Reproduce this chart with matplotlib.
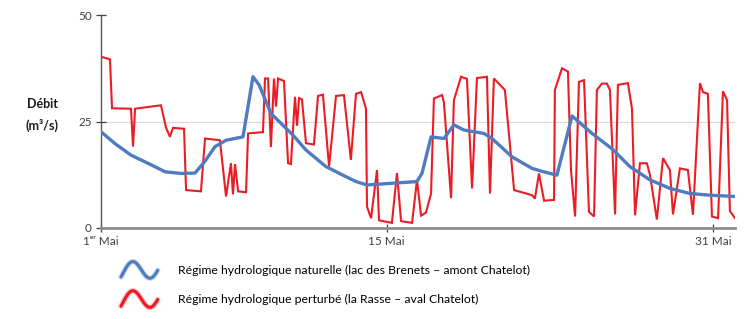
import numpy as np
import matplotlib
matplotlib.use('Agg')
import matplotlib.pyplot as plt
from matplotlib.lines import Line2D
from matplotlib.legend_handler import HandlerBase
import matplotlib.patheffects as pe

plt.rcParams['font.family'] = ['Lato', 'DejaVu Sans']

# ---- data (days since 1 May 00:00, discharge m3/s) ----
red_days = [0.00, 0.44, 0.54, 1.47, 1.57, 1.67, 2.94, 3.19, 3.38, 3.53, 4.07, 4.17,
            4.90, 5.10, 5.83, 6.13, 6.37, 6.47, 6.57, 6.72, 7.11, 7.21, 7.94, 8.04,
            8.19, 8.33, 8.48, 8.58, 8.68, 8.97, 9.17, 9.31, 9.51, 9.61, 9.71, 9.85,
            10.05, 10.44, 10.64, 10.88, 11.18, 11.52, 11.91, 12.25, 12.50, 12.75, 12.99,
            13.04, 13.24, 13.53, 13.63, 14.26, 14.51, 14.71, 15.25, 15.49, 15.69, 15.93,
            16.18, 16.32, 16.72, 16.81, 17.16, 17.30, 17.65, 17.94, 18.19, 18.43, 18.92,
            19.07, 19.26, 19.80, 20.25, 21.13, 21.27, 21.47, 21.72, 22.21, 22.25, 22.60,
            22.89, 23.04, 23.24, 23.43, 23.68, 23.92, 24.17, 24.31, 24.56, 24.80, 24.95,
            25.20, 25.34, 25.83, 26.03, 26.18, 26.42, 26.76, 26.91, 27.25, 27.55, 27.89,
            28.04, 28.38, 28.77, 29.02, 29.36, 29.51, 29.75, 29.95, 30.25, 30.49, 30.69,
            30.83, 31.08]
red_flow = [40.2, 39.6, 28.1, 28.0, 19.1, 28.0, 28.8, 23.5, 21.4, 23.5, 23.3, 8.9,
            8.6, 21.0, 20.6, 7.4, 15.2, 7.9, 15.0, 8.6, 8.4, 22.2, 22.5, 35.1,
            35.1, 19.0, 35.1, 28.5, 35.1, 34.5, 15.2, 15.0, 30.8, 24.0, 30.5, 30.2,
            19.9, 19.6, 31.0, 31.3, 14.4, 31.0, 31.2, 16.0, 31.5, 31.9, 28.0,
            5.0, 2.3, 13.6, 1.8, 1.2, 12.9, 1.6, 1.2, 11.3, 2.9, 3.6,
            8.1, 30.4, 31.2, 29.5, 7.0, 30.0, 35.5, 35.0, 9.3, 35.2, 35.5,
            8.1, 35.1, 32.4, 8.9, 7.7, 6.9, 12.8, 6.4, 6.6, 32.4, 37.5,
            36.7, 13.6, 2.7, 34.3, 34.7, 3.8, 2.7, 32.4, 33.9, 33.9, 32.4,
            3.2, 33.6, 34.0, 28.0, 3.0, 15.2, 15.2, 12.5, 2.0, 16.4, 13.6,
            3.2, 14.0, 13.6, 3.1, 34.0, 31.9, 31.5, 2.7, 2.3, 32.1, 30.0,
            4.0, 2.3]

blue_days = [0.00, 0.69, 1.47, 2.30, 3.14, 3.92, 4.61, 5.10, 5.59, 6.13, 6.96, 7.45,
             7.75, 8.33, 9.41, 10.05, 11.03, 11.86, 12.50, 13.04, 15.49, 15.74, 16.18,
             16.81, 17.30, 17.79, 18.77, 19.17, 20.15, 21.13, 21.62, 22.35, 23.09, 24.07,
             25.05, 25.93, 26.91, 27.89, 28.87, 29.85, 31.08]
blue_flow = [22.6, 19.8, 17.1, 15.2, 13.2, 12.8, 12.9, 15.7, 19.1, 20.6, 21.4, 35.5,
             33.6, 26.9, 21.8, 18.3, 14.4, 12.4, 10.9, 10.1, 10.9, 12.9, 21.4,
             21.0, 24.2, 23.0, 22.2, 21.0, 16.7, 14.0, 13.3, 12.4, 26.3, 22.2,
             18.6, 14.4, 11.3, 9.3, 8.1, 7.7, 7.4]

x_tick_days = [0, 14, 30]
x_tick_labels = ['1ᵉʳ Mai', '15 Mai', '31 Mai']
y_ticks = [0, 25, 50]
series_labels = ['Régime hydrologique naturelle (lac des Brenets – amont Chatelot)',
                 'Régime hydrologique perturbé (la Rasse – aval Chatelot)']

BLUE = '#4F7CC0'
RED = '#EC1C24'

W, H = 744, 319
fig = plt.figure(figsize=(W / 100, H / 100), dpi=100)
ax = fig.add_axes([101 / W, 91 / H, 634 / W, 213 / H])

ax.plot(red_days, red_flow, color=RED, lw=1.5, zorder=2, solid_joinstyle='miter')
ax.plot(blue_days, blue_flow, color=BLUE, lw=2.4, zorder=3)

ax.set_xlim(0, 31.08)
ax.set_ylim(0, 50)
ax.axhline(25, color='#d9d9d9', lw=0.8, zorder=1)

for s in ['top', 'right']:
    ax.spines[s].set_visible(False)
ax.spines['left'].set_color('#595959')
ax.spines['left'].set_linewidth(1.0)
ax.spines['bottom'].set_color('#8c8c8c')
ax.spines['bottom'].set_linewidth(2.0)

ax.set_yticks(y_ticks)
ax.set_yticklabels([str(v) for v in y_ticks])
ax.set_xticks(x_tick_days)
ax.set_xticklabels(x_tick_labels)
ax.tick_params(axis='y', direction='inout', length=7, width=0.9, colors='#404040',
               labelsize=8.5, pad=3)
ax.tick_params(axis='x', direction='inout', length=6, width=0.9, colors='#404040',
               labelsize=8.5, pad=3)

fig.text(42 / W, 1 - 115 / H, 'Débit\n(m³/s)', ha='center', va='center',
         fontsize=9, fontweight='bold', color='#1a1a1a', linespacing=1.75)


class WaveHandler(HandlerBase):
    def create_artists(self, legend, orig_handle, xdescent, ydescent, width, height,
                       fontsize, trans):
        t = np.linspace(0, 1, 60)
        xs = t * width - xdescent
        ys = (0.5 * height + 0.27 * width * np.sin(2 * np.pi * t - 0.35)
              + 0.18 * width * (t - 0.5)) - ydescent
        line = Line2D(xs, ys, color=orig_handle.get_color(), lw=2.3,
                      solid_capstyle='round',
                      path_effects=[pe.Stroke(linewidth=4.0, foreground=orig_handle.get_color(), alpha=0.25),
                                    pe.Normal()])
        line.set_transform(trans)
        return [line]


handles = [Line2D([], [], color=BLUE), Line2D([], [], color=RED)]
fig.legend(handles, series_labels, handler_map={Line2D: WaveHandler()},
           loc='upper left', bbox_to_anchor=(121 / W, 1 - 263 / H),
           frameon=False, fontsize=8.8, handlelength=3.0, handleheight=1.45,
           handletextpad=1.65, labelspacing=1.2, borderpad=0, borderaxespad=0)

fig.savefig('out.png', dpi=100)
